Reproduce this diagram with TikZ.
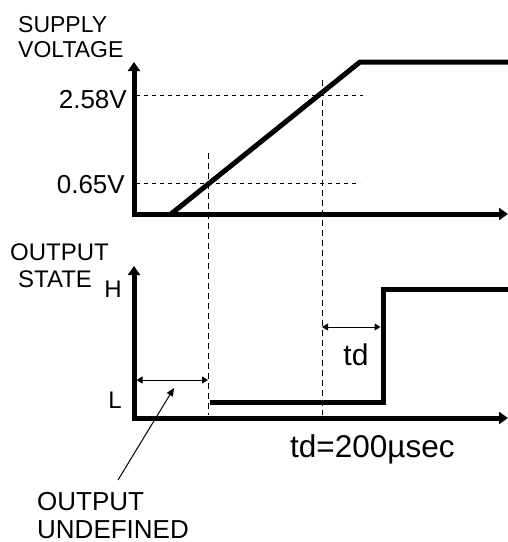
\documentclass[tikz,border=0pt]{standalone}
\usepackage{fontspec}
\setmainfont{Liberation Sans}
\usetikzlibrary{arrows.meta}

\begin{document}
\begin{tikzpicture}[x=1pt, y=-1pt,
  every node/.style={inner sep=0pt, font=\fontsize{24}{28}\selectfont},
  txtA/.style={font=\fontsize{23}{27}\selectfont},
  txtB/.style={font=\fontsize{26}{30}\selectfont},
  txtC/.style={font=\fontsize{30}{34}\selectfont},
  txtD/.style={font=\fontsize{31.5}{36}\selectfont},
  axis/.style={line width=5pt, {Triangle[length=9pt,width=12pt]}-{Triangle[length=9pt,width=12pt]}},
  signal/.style={line width=5pt},
  hguide/.style={line width=0.8pt, dash pattern=on 4pt off 4pt},
  vguide/.style={line width=0.8pt, dash pattern=on 6pt off 4pt},
  dim/.style={line width=1pt, {Triangle[length=6pt,width=7pt]}-{Triangle[length=6pt,width=7pt]}},
  pointer/.style={line width=1pt, -{Triangle[length=8pt,width=7pt]}}]
  \useasboundingbox (0,0) rectangle (508,542);
  % guides
  \draw[hguide] (136,95) -- (363,95);
  \draw[hguide] (136,183) -- (360,183);
  \draw[vguide] (208,153) -- (208,415);
  \draw[vguide] (322,80) -- (322,415);
  % supply voltage
  \draw[signal] (171,214) -- (360,62) -- (508,62);
  \draw[axis] (134,62) -- (134,214) -- (508,214);
  \node[anchor=base west, txtA] (supply) at (18,32) {SUPPLY};
  \node[anchor=base west, txtA] (voltage) at (18,57) {VOLTAGE};
  \node[anchor=base east, txtB] (vhigh) at (127,108) {2.58V};
  \node[anchor=base east, txtB] (vlow) at (125,193) {0.65V};
  % output state
  \draw[signal] (210,402) -- (383,402) -- (383,289) -- (508,289);
  \draw[axis] (134,266) -- (134,418) -- (508,418);
  \node[anchor=base west] (output) at (10,260) {OUTPUT};
  \node[anchor=base west] (state) at (18,287) {STATE};
  \node[anchor=base east] (high) at (122,297) {H};
  \node[anchor=base east] (low) at (122,408) {L};
  \coordinate (undefl) at (136.5,380);
  \coordinate (undefr) at (208,380);
  \coordinate (tdl) at (322,327);
  \coordinate (tdr) at (380.5,327);
  \draw[dim] (undefl) -- (undefr);
  \draw[dim] (tdl) -- (tdr);
  \node[anchor=base, txtC] (td) at (356,365) {td};
  \node[anchor=base west, txtD] (tdval) at (290,457) {td=200µsec};
  \node[anchor=base west, txtB] (undef1) at (37,510) {OUTPUT};
  \node[anchor=base west, txtB] (undef2) at (37,538) {UNDEFINED};
  \coordinate (ptail) at (118,480);
  \coordinate (ptip) at (174,388);
  \draw[pointer] (ptail) -- (ptip);
\end{tikzpicture}
\end{document}
